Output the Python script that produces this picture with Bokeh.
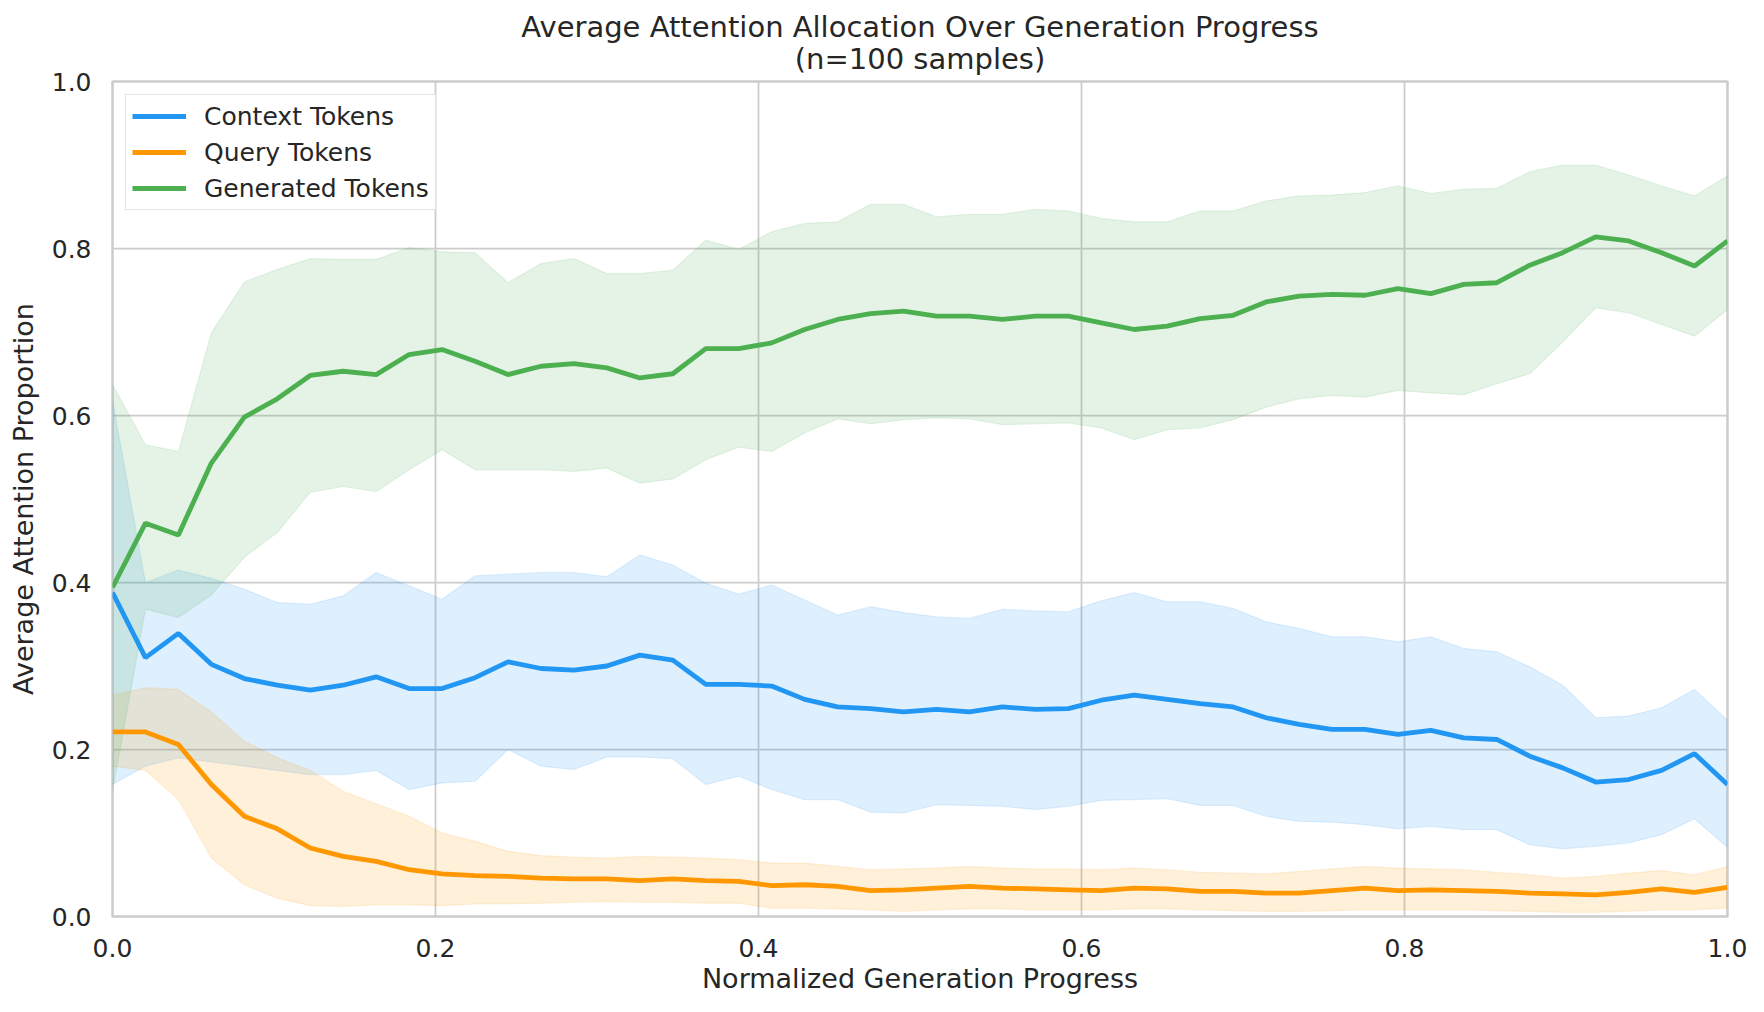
import numpy as np
from bokeh.plotting import figure
from bokeh.models import Range1d, FixedTicker, PrintfTickFormatter, Legend, LegendItem, Title
from bokeh.embed import file_html
from bokeh.resources import INLINE

# ---------------- data ----------------
progress = np.linspace(0.0, 1.0, 50)

context_mean = [0.388, 0.310, 0.339, 0.302, 0.285, 0.277, 0.271, 0.277, 0.287, 0.273,
                0.273, 0.286, 0.305, 0.297, 0.295, 0.300, 0.313, 0.307, 0.278, 0.278,
                0.276, 0.260, 0.251, 0.249, 0.245, 0.248, 0.245, 0.251, 0.248, 0.249,
                0.259, 0.265, 0.260, 0.255, 0.251, 0.238, 0.230, 0.224, 0.224, 0.218,
                0.223, 0.214, 0.212, 0.192, 0.178, 0.161, 0.164, 0.175, 0.195, 0.158]
context_upper = [0.618, 0.400, 0.415, 0.405, 0.392, 0.376, 0.374, 0.384, 0.412, 0.396,
                 0.380, 0.408, 0.410, 0.412, 0.412, 0.407, 0.433, 0.421, 0.399, 0.386,
                 0.397, 0.379, 0.361, 0.371, 0.364, 0.359, 0.357, 0.368, 0.366, 0.365,
                 0.378, 0.388, 0.377, 0.377, 0.369, 0.353, 0.345, 0.335, 0.335, 0.329,
                 0.335, 0.321, 0.317, 0.299, 0.277, 0.238, 0.240, 0.250, 0.272, 0.235]
context_lower = [0.158, 0.180, 0.190, 0.185, 0.180, 0.175, 0.170, 0.170, 0.175, 0.152,
                 0.160, 0.162, 0.200, 0.180, 0.176, 0.191, 0.191, 0.189, 0.158, 0.168,
                 0.152, 0.140, 0.140, 0.125, 0.124, 0.134, 0.133, 0.132, 0.128, 0.132,
                 0.139, 0.140, 0.141, 0.133, 0.133, 0.120, 0.114, 0.113, 0.110, 0.105,
                 0.108, 0.104, 0.104, 0.086, 0.081, 0.084, 0.088, 0.098, 0.117, 0.083]

query_mean = [0.221, 0.221, 0.206, 0.158, 0.120, 0.105, 0.082, 0.072, 0.066, 0.056,
              0.051, 0.049, 0.048, 0.046, 0.045, 0.045, 0.043, 0.045, 0.043, 0.042,
              0.037, 0.038, 0.036, 0.031, 0.032, 0.034, 0.036, 0.034, 0.033, 0.032,
              0.031, 0.034, 0.033, 0.030, 0.030, 0.028, 0.028, 0.031, 0.034, 0.031,
              0.032, 0.031, 0.030, 0.028, 0.027, 0.026, 0.029, 0.033, 0.029, 0.035]
query_upper = [0.265, 0.274, 0.272, 0.245, 0.210, 0.190, 0.175, 0.150, 0.135, 0.120,
               0.100, 0.090, 0.078, 0.073, 0.071, 0.070, 0.072, 0.071, 0.070, 0.068,
               0.064, 0.064, 0.060, 0.056, 0.057, 0.058, 0.060, 0.058, 0.057, 0.057,
               0.056, 0.058, 0.056, 0.053, 0.052, 0.051, 0.054, 0.057, 0.060, 0.058,
               0.057, 0.056, 0.053, 0.050, 0.046, 0.048, 0.052, 0.055, 0.050, 0.060]
query_lower = [0.180, 0.175, 0.140, 0.070, 0.038, 0.022, 0.013, 0.012, 0.014, 0.014,
               0.013, 0.015, 0.015, 0.016, 0.017, 0.018, 0.017, 0.017, 0.016, 0.016,
               0.010, 0.010, 0.009, 0.008, 0.006, 0.008, 0.009, 0.009, 0.008, 0.008,
               0.008, 0.009, 0.009, 0.008, 0.007, 0.006, 0.006, 0.007, 0.008, 0.008,
               0.008, 0.008, 0.007, 0.006, 0.005, 0.005, 0.006, 0.008, 0.008, 0.010]

generated_mean = [0.394, 0.471, 0.457, 0.543, 0.598, 0.620, 0.648, 0.653, 0.649, 0.673,
                  0.679, 0.665, 0.649, 0.659, 0.662, 0.657, 0.645, 0.650, 0.680, 0.680,
                  0.687, 0.703, 0.715, 0.722, 0.725, 0.719, 0.719, 0.715, 0.719, 0.719,
                  0.711, 0.703, 0.707, 0.716, 0.720, 0.736, 0.743, 0.745, 0.744, 0.752,
                  0.746, 0.757, 0.759, 0.780, 0.795, 0.814, 0.809, 0.795, 0.779, 0.809]
generated_upper = [0.637, 0.565, 0.557, 0.699, 0.760, 0.775, 0.788, 0.787, 0.787, 0.801,
                   0.796, 0.795, 0.759, 0.782, 0.788, 0.770, 0.770, 0.774, 0.810, 0.799,
                   0.820, 0.830, 0.832, 0.853, 0.853, 0.838, 0.841, 0.841, 0.847, 0.845,
                   0.836, 0.832, 0.832, 0.845, 0.845, 0.857, 0.863, 0.864, 0.867, 0.875,
                   0.866, 0.871, 0.872, 0.892, 0.900, 0.900, 0.888, 0.875, 0.863, 0.887]
generated_lower = [0.150, 0.368, 0.358, 0.385, 0.430, 0.460, 0.508, 0.515, 0.509, 0.535,
                   0.559, 0.535, 0.535, 0.535, 0.533, 0.537, 0.519, 0.524, 0.547, 0.562,
                   0.557, 0.579, 0.596, 0.590, 0.595, 0.597, 0.596, 0.589, 0.590, 0.591,
                   0.585, 0.571, 0.583, 0.585, 0.595, 0.610, 0.620, 0.624, 0.622, 0.630,
                   0.627, 0.625, 0.638, 0.650, 0.688, 0.729, 0.723, 0.709, 0.695, 0.727]

series_names = ["Context Tokens", "Query Tokens", "Generated Tokens"]
series_colors = ["#2196F3", "#FF9800", "#4CAF50"]
tick_values = [0.0, 0.2, 0.4, 0.6, 0.8, 1.0]
title_line1 = "Average Attention Allocation Over Generation Progress"
title_line2 = "(n=100 samples)"

# ---------------- figure ----------------
FONT = "DejaVu Sans"
TXT = "#262626"

p = figure(width=1748, height=996, title=None,
           x_range=Range1d(0, 1), y_range=Range1d(0, 1),
           output_backend="svg", toolbar_location=None,
           min_border_left=112, min_border_right=21,
           min_border_top=81, min_border_bottom=80,
           background_fill_color="white", border_fill_color="white")

sub = Title(text=title_line2, align="center", text_font=FONT, text_font_size="29px",
            text_font_style="normal", text_color=TXT, standoff=11, offset=0)
main = Title(text=title_line1, align="center", text_font=FONT, text_font_size="29px",
             text_font_style="normal", text_color=TXT, standoff=-18, offset=0)
p.add_layout(sub, "above")
p.add_layout(main, "above")

p.outline_line_color = "#cccccc"
p.outline_line_width = 2.5

for ax in (p.xaxis[0], p.yaxis[0]):
    ax.ticker = FixedTicker(ticks=tick_values)
    ax.formatter = PrintfTickFormatter(format="%.1f")
    ax.axis_line_color = None
    ax.major_tick_line_color = None
    ax.minor_tick_line_color = None
    ax.major_tick_out = 0
    ax.major_tick_in = 0
    ax.major_label_text_font = FONT
    ax.major_label_text_font_size = "25px"
    ax.major_label_text_color = TXT
    ax.axis_label_text_font = FONT
    ax.axis_label_text_font_size = "27px"
    ax.axis_label_text_font_style = "normal"
    ax.axis_label_text_color = TXT

p.xaxis.axis_label = "Normalized Generation Progress"
p.yaxis.axis_label = "Average Attention Proportion"
p.xaxis.major_label_standoff = 22
p.yaxis.major_label_standoff = 21
p.xaxis.axis_label_standoff = 3
p.yaxis.axis_label_standoff = 10

p.grid.grid_line_color = "#cccccc"
p.grid.grid_line_width = 1.75

bands = [(context_lower, context_upper), (query_lower, query_upper), (generated_lower, generated_upper)]
means = [context_mean, query_mean, generated_mean]

for (lo, hi), c in zip(bands, series_colors):
    p.varea(x=progress, y1=lo, y2=hi, fill_color=c, fill_alpha=0.15)
    p.line(x=progress, y=lo, line_color=c, line_alpha=0.12, line_width=1.2)
    p.line(x=progress, y=hi, line_color=c, line_alpha=0.12, line_width=1.2)

line_renderers = []
for m, c in zip(means, series_colors):
    r = p.line(x=progress, y=m, line_color=c, line_width=4.8)
    line_renderers.append(r)

legend = Legend(items=[LegendItem(label=n, renderers=[r]) for n, r in zip(series_names, line_renderers)],
                location="top_left")
legend.label_text_font = FONT
legend.label_text_font_size = "25px"
legend.label_text_color = TXT
legend.glyph_width = 54
legend.glyph_height = 30
legend.label_height = 30
legend.label_standoff = 18
legend.spacing = 6
legend.padding = 6
legend.margin = 13
legend.border_line_color = "#cccccc"
legend.border_line_width = 1.5
legend.background_fill_color = "white"
legend.background_fill_alpha = 0.85
p.add_layout(legend)

open("out.html", "w").write(file_html(p, INLINE))
